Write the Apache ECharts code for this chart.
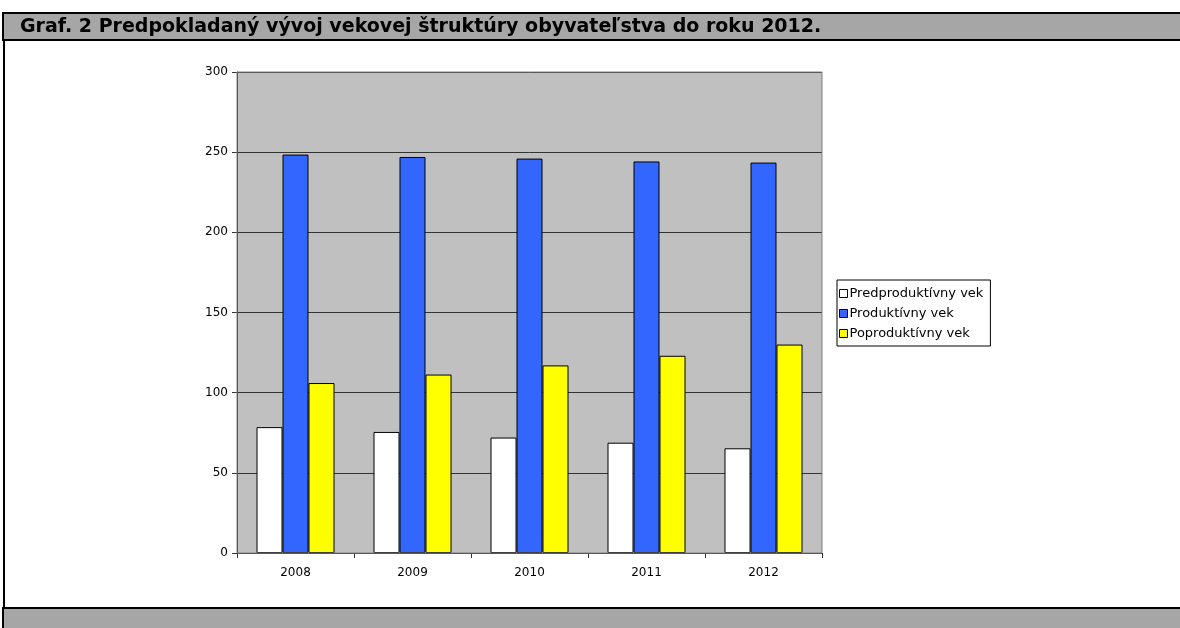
<!DOCTYPE html>
<html>
<head>
<meta charset="utf-8">
<script src="https://cdn.jsdelivr.net/npm/echarts@6/dist/echarts.min.js"></script>
<style>
html,body{margin:0;padding:0;background:#fff;}
#c{width:1180px;height:628px;}
</style>
</head>
<body>
<div id="c"></div>
<script>
var titleText = 'Graf. 2 Predpokladaný vývoj vekovej štruktúry obyvateľstva do roku 2012.';
var years = ['2008', '2009', '2010', '2011', '2012'];
var seriesNames = ['Predproduktívny vek', 'Produktívny vek', 'Poproduktívny vek'];
var predproduktivny = [78.5, 75.5, 72, 68.8, 65.3];
var produktivny = [248.5, 247, 246, 244.2, 243.5];
var poproduktivny = [106, 111.3, 117, 123, 130];
var yTicks = [0, 50, 100, 150, 200, 250, 300];

var chart = echarts.init(document.getElementById('c'), null, {renderer: 'canvas'});
var font = 'DejaVu Sans';
var colors = ['#ffffff', '#3366ff', '#ffff00'];
var datas = [predproduktivny, produktivny, poproduktivny];

var option = {
  animation: false,
  backgroundColor: '#ffffff',
  textStyle: {fontFamily: font},
  graphic: [
    {type: 'rect', shape: {x: 3, y: 13, width: 1180, height: 27}, style: {fill: '#a6a6a6', stroke: '#000', lineWidth: 2}, z: 0},
    {type: 'text', left: 20, top: 18, style: {text: titleText, fontFamily: font, fontWeight: 'bold', fontSize: 19, fill: '#000'}, z: 5},
    {type: 'line', shape: {x1: 4, y1: 40, x2: 4, y2: 628}, style: {stroke: '#000', lineWidth: 2}, z: 0},
    {type: 'rect', shape: {x: 3, y: 608, width: 1180, height: 30}, style: {fill: '#a6a6a6', stroke: '#000', lineWidth: 2}, z: 0},
    {type: 'rect', shape: {x: 237, y: 72, width: 585, height: 481}, style: {fill: 'none', stroke: '#808080', lineWidth: 1}, z: 3}
  ],
  legend: {
    orient: 'vertical',
    left: 837,
    top: 280,
    data: seriesNames,
    itemWidth: 8,
    itemHeight: 8,
    itemGap: 5,
    icon: 'rect',
    borderColor: '#000',
    borderWidth: 1,
    padding: [6, 7, 5, 2],
    itemStyle: {borderWidth: 1, borderColor: '#000'},
    textStyle: {fontFamily: font, fontSize: 13, lineHeight: 15, color: '#000', padding: [0, 0, 0, -3]}
  },
  grid: {left: 237, right: 358, top: 72, bottom: 75, backgroundColor: '#c0c0c0', show: true, borderWidth: 0},
  xAxis: {
    type: 'category',
    data: years,
    axisLine: {lineStyle: {color: '#333', width: 1}},
    axisTick: {show: true, length: 5, lineStyle: {color: '#333'}, alignWithLabel: false},
    axisLabel: {color: '#000', fontFamily: font, fontSize: 12, margin: 14}
  },
  yAxis: {
    type: 'value',
    min: 0,
    max: 300,
    interval: 50,
    axisLine: {show: true, lineStyle: {color: '#333', width: 1}},
    axisTick: {show: true, length: 5, lineStyle: {color: '#333'}},
    axisLabel: {color: '#000', fontFamily: font, fontSize: 12, margin: 9},
    splitLine: {show: true, lineStyle: {color: '#333', width: 1}}
  },
  series: seriesNames.map(function (n, i) {
    return {
      name: n,
      type: 'bar',
      data: datas[i],
      barWidth: 26,
      barGap: '0%',
      itemStyle: {color: colors[i], borderColor: '#000', borderWidth: 1}
    };
  })
};
chart.setOption(option);
</script>
</body>
</html>
